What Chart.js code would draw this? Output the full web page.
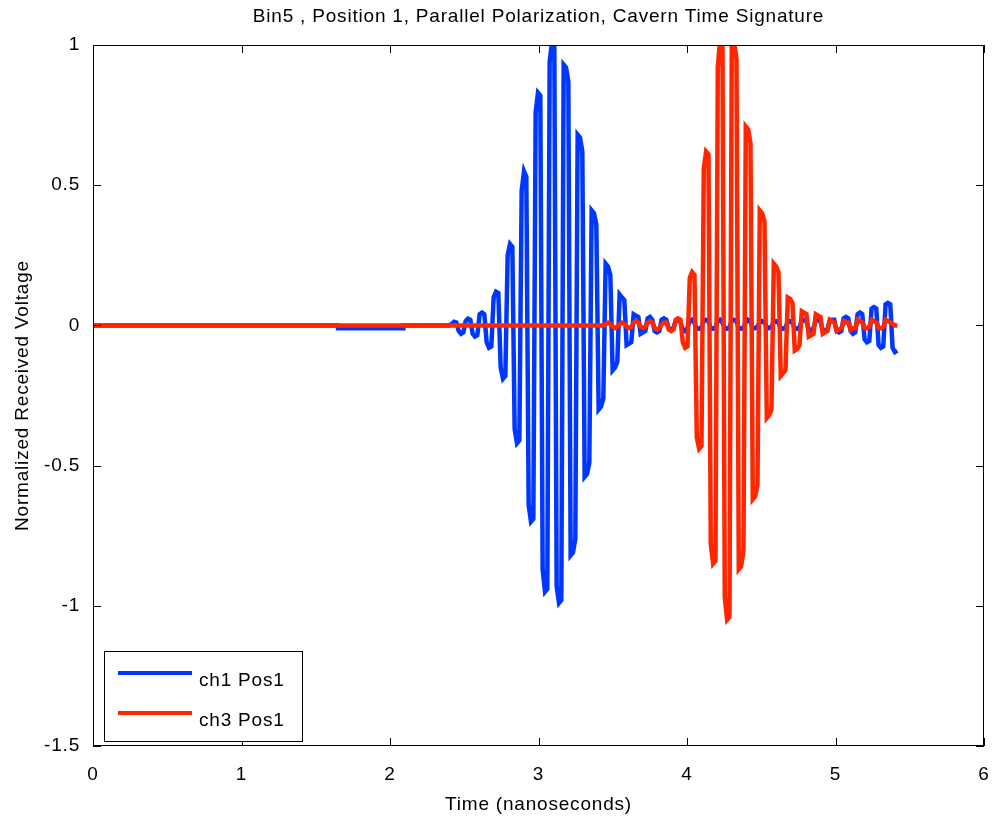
<!DOCTYPE html>
<html lang="en">

<head>
    <meta charset="UTF-8">
    <title>Cavern Time Signature</title>
    <script src="https://cdn.jsdelivr.net/npm/chart.js"></script>
    <style>
        html, body { margin: 0; padding: 0; background: #fff; }
        canvas { display: block; }
    </style>
</head>

<body>
    <canvas id="sigChart" width="993" height="824"></canvas>

    <script>
        // --- data ---
        const titleText = 'Bin5 , Position 1, Parallel Polarization, Cavern Time Signature';
        const xLabel = 'Time (nanoseconds)';
        const yLabel = 'Normalized Received Voltage';
        const xTicks = [0, 1, 2, 3, 4, 5, 6];
        const yTicks = [-1.5, -1, -0.5, 0, 0.5, 1];

        const sampleStep = 0.01571;   // ns between samples

        // ch1: quiet lead-in (knots), then sampled burst
        const ch1LeadT = [0, 1.65, 1.65, 2.09, 2.09, 2.40];
        const ch1LeadV = [0, 0, -0.01, -0.01, 0, 0];
        const ch1Start = 2.4153;
        const ch1Burst = [
            0.005, 0.013, 0.01, -0.02, -0.03, -0.025, 0.015, 0.024, 0.02,
            -0.03, -0.04, -0.035, 0.04, 0.046, 0.04, -0.06, -0.08, -0.075,
            0.10, 0.12, 0.115, -0.15, -0.19, -0.18, 0.25, 0.29, 0.28,
            -0.37, -0.42, -0.41, 0.48, 0.55, 0.53, -0.64, -0.70, -0.69,
            0.76, 0.83, 0.82, -0.87, -0.95, -0.94, 0.94, 1.01, 1.0,
            -0.93, -0.99, -0.98, 0.93, 0.92, 0.87, -0.82, -0.81, -0.76,
            0.68, 0.67, 0.62, -0.54, -0.53, -0.49, 0.41, 0.40, 0.36,
            -0.30, -0.29, -0.26, 0.22, 0.21, 0.18, -0.16, -0.15, -0.13,
            0.11, 0.10, 0.09, -0.07, -0.065, -0.06, 0.04, 0.035, 0.03,
            -0.03, -0.025, -0.02, 0.025, 0.03, 0.02, -0.02, -0.025, -0.02,
            0.02, 0.025, 0.02, -0.01, -0.015, -0.01, 0.015, 0.02, 0.015,
            -0.015, -0.02, -0.01, 0.015, 0.02, 0.01, -0.01, -0.012, -0.008,
            0.015, 0.02, 0.015, -0.008, -0.012, -0.008, 0.015, 0.02, 0.01,
            -0.008, -0.012, -0.008, 0.015, 0.02, 0.015, -0.008, -0.012, -0.008,
            0.01, 0.02, 0.015, -0.01, -0.01, -0.005, 0.01, 0.015, 0.01,
            -0.005, -0.01, -0.005, 0.01, 0.015, 0.01, -0.01, -0.012, -0.008,
            0.01, 0.015, 0.01, -0.01, -0.012, -0.008, 0.015, 0.02, 0.015,
            -0.012, -0.018, -0.012, 0.015, 0.02, 0.015, -0.015, -0.02, -0.015,
            0.015, 0.02, 0.02, -0.02, -0.025, -0.02, 0.025, 0.03, 0.025,
            -0.02, -0.03, -0.025, 0.04, 0.046, 0.04, -0.05, -0.06, -0.055,
            0.06, 0.065, 0.06, -0.07, -0.08, -0.075, 0.075, 0.08, 0.075,
            -0.08, -0.095, -0.09
        ];

        // ch3: flat lead-in, then sampled burst
        const ch3LeadT = [0, 3.44];
        const ch3LeadV = [0, 0];
        const ch3Start = 3.4533;
        const ch3Burst = [
            0.005, 0.01, 0.005, -0.005, -0.01, -0.005, 0.005, 0.01, 0.005,
            -0.005, -0.01, -0.005, 0.01, 0.015, 0.01, -0.005, -0.01, -0.005,
            0.01, 0.015, 0.01, -0.01, -0.015, -0.01, 0.005, 0.01, 0.01,
            -0.015, -0.02, -0.015, 0.02, 0.025, 0.02, -0.06, -0.08, -0.075,
            0.17, 0.19, 0.18, -0.40, -0.44, -0.43, 0.56, 0.62, 0.61,
            -0.78, -0.85, -0.84, 0.92, 1.02, 1.01, -0.97, -1.05, -1.04,
            1.02, 1.01, 0.95, -0.87, -0.86, -0.80, 0.71, 0.70, 0.65,
            -0.62, -0.61, -0.57, 0.41, 0.40, 0.37, -0.33, -0.32, -0.30,
            0.22, 0.21, 0.19, -0.18, -0.17, -0.16, 0.10, 0.095, 0.08,
            -0.09, -0.085, -0.07, 0.05, 0.045, 0.04, -0.04, -0.035, -0.03,
            0.04, 0.035, 0.03, -0.03, -0.025, -0.02, 0.02, 0.015, 0.01,
            -0.02, -0.015, -0.01, 0.015, 0.01, 0.01, -0.015, -0.01, -0.01,
            0.02, 0.015, 0.01, -0.01, -0.01, -0.005, 0.02, 0.015, 0.01,
            -0.01, -0.01, -0.005, 0.02, 0.015, 0.01, 0.005, 0, 0
        ];

        const seriesNames = ['ch1 Pos1', 'ch3 Pos1'];
        const seriesColors = ['#0037ff', '#ff2600'];
        const fontStack = '"Liberation Sans", Arial, sans-serif';
        const spacing = '0.8px';

        function toPoints(leadT, leadV, start, burst) {
            const pts = leadT.map((t, i) => ({ x: t, y: leadV[i] }));
            burst.forEach((v, i) => pts.push({ x: start + i * sampleStep, y: v }));
            return pts;
        }

        // matlab-ish frame, inward ticks, title and legend
        const matlabFrame = {
            id: 'matlabFrame',
            beforeUpdate(chart) { chart.ctx.letterSpacing = spacing; },
            beforeDraw(chart) { chart.ctx.letterSpacing = spacing; },
            afterDraw(chart) {
                const { ctx, chartArea: a, scales } = chart;
                ctx.save();
                ctx.letterSpacing = spacing;
                ctx.strokeStyle = '#000';
                ctx.lineWidth = 1;
                ctx.strokeRect(a.left + 0.5, a.top + 0.5, a.right - a.left - 1, a.bottom - a.top - 1);

                const tl = 8;
                ctx.beginPath();
                xTicks.forEach(v => {
                    const px = Math.round(scales.x.getPixelForValue(v)) + 0.5;
                    ctx.moveTo(px, a.bottom); ctx.lineTo(px, a.bottom - tl);
                    ctx.moveTo(px, a.top); ctx.lineTo(px, a.top + tl);
                });
                yTicks.forEach(v => {
                    const py = Math.round(scales.y.getPixelForValue(v)) + 0.5;
                    ctx.moveTo(a.left, py); ctx.lineTo(a.left + tl, py);
                    ctx.moveTo(a.right, py); ctx.lineTo(a.right - tl, py);
                });
                ctx.stroke();

                // title centred over the axes
                ctx.fillStyle = '#000';
                ctx.font = '19px ' + fontStack;
                ctx.textAlign = 'center';
                ctx.textBaseline = 'middle';
                ctx.fillText(titleText, (a.left + a.right) / 2, 17);

                // legend box, lower left
                const bx = 104, by = 651, bw = 198, bh = 90;
                ctx.fillStyle = '#fff';
                ctx.fillRect(bx, by, bw, bh);
                ctx.strokeRect(bx + 0.5, by + 0.5, bw, bh);
                seriesNames.forEach((name, i) => {
                    const ly = by + 22 + i * 40;
                    ctx.strokeStyle = seriesColors[i];
                    ctx.lineWidth = 4;
                    ctx.beginPath();
                    ctx.moveTo(bx + 14, ly); ctx.lineTo(bx + 88, ly);
                    ctx.stroke();
                    ctx.fillStyle = '#000';
                    ctx.textAlign = 'left';
                    ctx.fillText(name, bx + 95, ly + 8);
                });
                ctx.restore();
            }
        };

        Chart.defaults.font.family = fontStack;
        Chart.defaults.font.size = 19;
        Chart.defaults.color = '#000';

        new Chart(document.getElementById('sigChart'), {
            type: 'line',
            data: {
                datasets: [
                    {
                        label: seriesNames[0],
                        data: toPoints(ch1LeadT, ch1LeadV, ch1Start, ch1Burst),
                        borderColor: seriesColors[0],
                        borderWidth: 4.5,
                        pointRadius: 0,
                        tension: 0,
                        clip: 0,
                        order: 2
                    },
                    {
                        label: seriesNames[1],
                        data: toPoints(ch3LeadT, ch3LeadV, ch3Start, ch3Burst),
                        borderColor: seriesColors[1],
                        borderWidth: 4.5,
                        pointRadius: 0,
                        tension: 0,
                        clip: 0,
                        order: 1
                    }
                ]
            },
            options: {
                responsive: false,
                animation: false,
                devicePixelRatio: 1,
                layout: { padding: { top: 45, right: 9, left: 0, bottom: 0 } },
                plugins: {
                    legend: { display: false },
                    title: { display: false },
                    tooltip: { enabled: false }
                },
                scales: {
                    x: {
                        type: 'linear',
                        min: 0,
                        max: 6,
                        afterFit: s => {
                            s.height = 78;
                            s.paddingLeft = 0; s.paddingRight = 0;
                        },
                        afterBuildTicks: s => { s.ticks = xTicks.map(v => ({ value: v })); },
                        grid: { display: false, drawTicks: false },
                        border: { display: false },
                        ticks: { padding: 17, maxRotation: 0, callback: v => String(v) },
                        title: { display: true, text: xLabel, padding: { top: 0, bottom: 8 } }
                    },
                    y: {
                        type: 'linear',
                        min: -1.5,
                        max: 1,
                        afterFit: s => {
                            s.width = 93;
                            s.paddingTop = 0; s.paddingBottom = 0;
                        },
                        afterBuildTicks: s => { s.ticks = yTicks.map(v => ({ value: v })); },
                        grid: { display: false, drawTicks: false },
                        border: { display: false },
                        ticks: { padding: 13, callback: v => String(v) },
                        title: { display: true, text: yLabel, padding: { top: 11, bottom: 0 } }
                    }
                }
            },
            plugins: [matlabFrame]
        });
    </script>
</body>

</html>
